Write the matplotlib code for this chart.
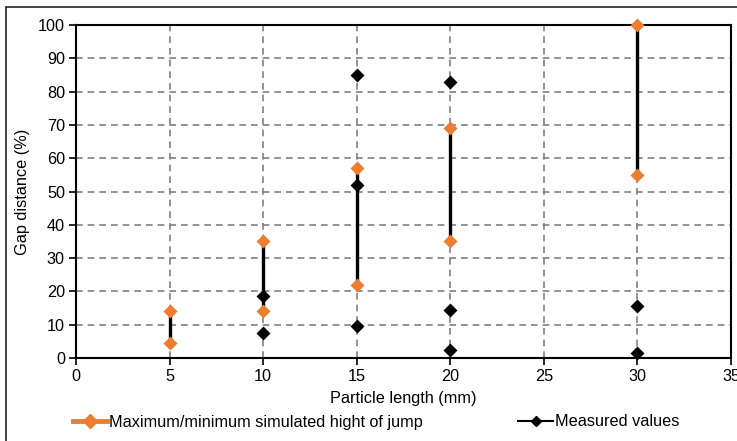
import matplotlib.pyplot as plt
from matplotlib.lines import Line2D
from matplotlib.patches import Rectangle

plt.rcParams['font.family'] = ['Liberation Sans', 'DejaVu Sans']

# simulated max/min jump height per particle length
sim_x = [5, 10, 15, 20, 30]
sim_max = [14, 35, 57, 69, 100]
sim_min = [4.5, 14, 22, 35, 55]

# measured values
meas_x = [10, 10, 15, 15, 15, 20, 20, 20, 30, 30]
meas_y = [18.5, 7.5, 85, 52, 9.5, 83, 14.5, 2.5, 15.5, 1.5]

orange = '#ed7d31'
fs = 11.7

fig = plt.figure(figsize=(7.37, 4.41), dpi=100)
ax = fig.add_axes([76 / 737, 1 - 358 / 441, (731 - 76) / 737, (358 - 25) / 441])

# outer frame like the chart area border
fig.patches.append(Rectangle((6 / 737, -0.1), 1.2, 1 - 7 / 441 + 0.1,
                             transform=fig.transFigure, fill=False,
                             edgecolor='#222222', linewidth=1.2))

ax.vlines(sim_x, sim_min, sim_max, color='black', linewidth=2.4, zorder=3)
ax.plot(sim_x, sim_max, linestyle='none', marker='D', markersize=7.5,
        color=orange, markeredgecolor='none', zorder=4, clip_on=False)
ax.plot(sim_x, sim_min, linestyle='none', marker='D', markersize=7.5,
        color=orange, markeredgecolor='none', zorder=4, clip_on=False)
ax.plot(meas_x, meas_y, linestyle='none', marker='D', markersize=7.5,
        color='black', markeredgecolor='none', zorder=5, clip_on=False)

ax.set_xlim(0, 35)
ax.set_ylim(0, 100)
ax.set_xticks(range(0, 36, 5))
ax.set_yticks(range(0, 101, 10))
ax.grid(True, color='#808080', linestyle=(0, (4, 3)), linewidth=1.2)
ax.set_axisbelow(True)
for s in ax.spines.values():
    s.set_linewidth(1.5)
ax.tick_params(direction='out', length=5, width=1.2, labelsize=fs, pad=3)

ax.set_xlabel('Particle length (mm)', fontsize=fs, labelpad=5)
ax.set_ylabel('Gap distance (%)', fontsize=fs, labelpad=6)

h1 = Line2D([], [], color=orange, linewidth=3.5, marker='D', markersize=7)
h2 = Line2D([], [], color='black', linewidth=1.5, marker='D', markersize=5)
fig.legend([h1], ['Maximum/minimum simulated hight of jump'],
           loc='center left', bbox_to_anchor=(66 / 737, 1 - 422 / 441),
           frameon=False, fontsize=fs, handlelength=2.1, handletextpad=0.15,
           borderaxespad=0)
fig.legend([h2], ['Measured values'],
           loc='center left', bbox_to_anchor=(512 / 737, 1 - 422 / 441),
           frameon=False, fontsize=fs, handlelength=2.1, handletextpad=0.15,
           borderaxespad=0)

fig.savefig('out.png', dpi=100)
